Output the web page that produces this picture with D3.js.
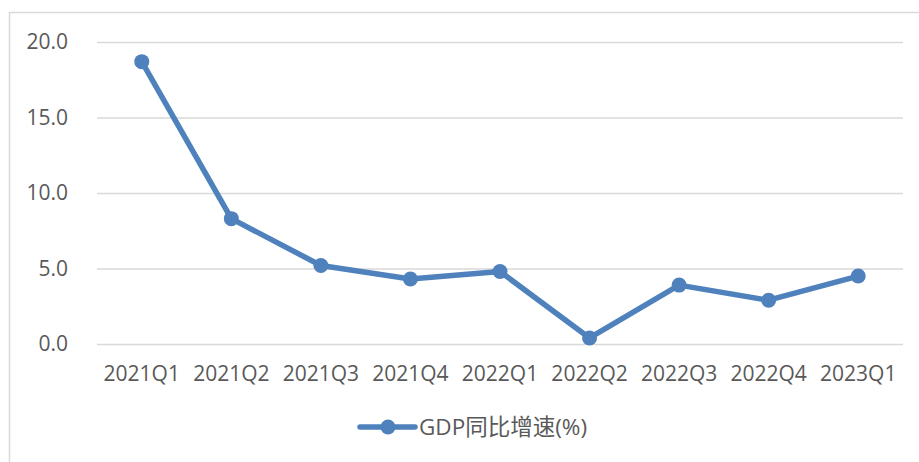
<!DOCTYPE html>
<html lang="zh">
<head>
<meta charset="UTF-8">
<title>GDP同比增速</title>
<style>
    body { margin: 0; background: #fff; }
    svg { display: block; }
    text { font-family: "Open Sans", "Noto Sans CJK SC", sans-serif; fill: #595959; }
</style>
</head>
<body>
<script src="https://cdn.jsdelivr.net/npm/d3@7/dist/d3.min.js"></script>
<script>
    const width = 919;
    const height = 462;

    const quarters = ['2021Q1', '2021Q2', '2021Q3', '2021Q4', '2022Q1', '2022Q2', '2022Q3', '2022Q4', '2023Q1'];
    const gdpGrowth = [18.7, 8.3, 5.2, 4.3, 4.8, 0.4, 3.9, 2.9, 4.5];
    const yTicks = [0, 5, 10, 15, 20];
    const seriesName = 'GDP同比增速(%)';

    const COLORS = {
        line: '#4f81bd',
        grid: '#d9d9d9',
        frame: '#d9d9d9',
        text: '#595959'
    };

    const plot = { left: 97, right: 903, top: 42, bottom: 344 };

    const svg = d3.select('body').append('svg')
        .attr('width', width)
        .attr('height', height);

    // chart frame, runs off the right and bottom edge like the screenshot
    svg.append('rect')
        .attr('x', 9.5).attr('y', 12.5)
        .attr('width', width).attr('height', height)
        .attr('fill', '#fff')
        .attr('stroke', COLORS.frame)
        .attr('stroke-width', 1.5);

    const x = d3.scaleBand().domain(quarters).range([plot.left, plot.right]);
    const y = d3.scaleLinear().domain([0, 20]).range([plot.bottom, plot.top]);

    // gridlines + y labels
    const yAxis = svg.append('g')
        .attr('transform', `translate(${plot.left},0)`)
        .call(d3.axisLeft(y).tickValues(yTicks).tickFormat(d3.format('.1f'))
            .tickSize(-(plot.right - plot.left)).tickPadding(29));
    yAxis.select('.domain').remove();
    yAxis.selectAll('.tick line').attr('stroke', COLORS.grid).attr('stroke-width', 1.5);
    yAxis.selectAll('.tick text').attr('fill', COLORS.text).style('font-size', '21px');

    // x labels
    const xAxis = svg.append('g')
        .attr('transform', `translate(0,${plot.bottom})`)
        .call(d3.axisBottom(x).tickSize(0).tickPadding(22));
    xAxis.select('.domain').remove();
    xAxis.selectAll('.tick text').attr('fill', COLORS.text).style('font-size', '21px');

    const cx = d => x(d) + x.bandwidth() / 2;

    const line = d3.line()
        .x((d, i) => cx(quarters[i]))
        .y(d => y(d));

    svg.append('path')
        .datum(gdpGrowth)
        .attr('fill', 'none')
        .attr('stroke', COLORS.line)
        .attr('stroke-width', 5.5)
        .attr('stroke-linejoin', 'round')
        .attr('d', line);

    svg.append('g')
        .selectAll('circle')
        .data(gdpGrowth)
        .enter()
        .append('circle')
        .attr('cx', (d, i) => cx(quarters[i]))
        .attr('cy', d => y(d))
        .attr('r', 7.5)
        .attr('fill', COLORS.line);

    // legend
    const legend = svg.append('g').attr('transform', 'translate(360,427)');
    legend.append('line')
        .attr('x1', 0).attr('x2', 55)
        .attr('stroke', COLORS.line)
        .attr('stroke-width', 5.5)
        .attr('stroke-linecap', 'round');
    legend.append('circle').attr('cx', 28).attr('r', 7.5).attr('fill', COLORS.line);
    legend.append('text')
        .attr('x', 59)
        .attr('dy', '0.35em')
        .style('font-size', '22.5px')
        .text(seriesName);
</script>
</body>
</html>
